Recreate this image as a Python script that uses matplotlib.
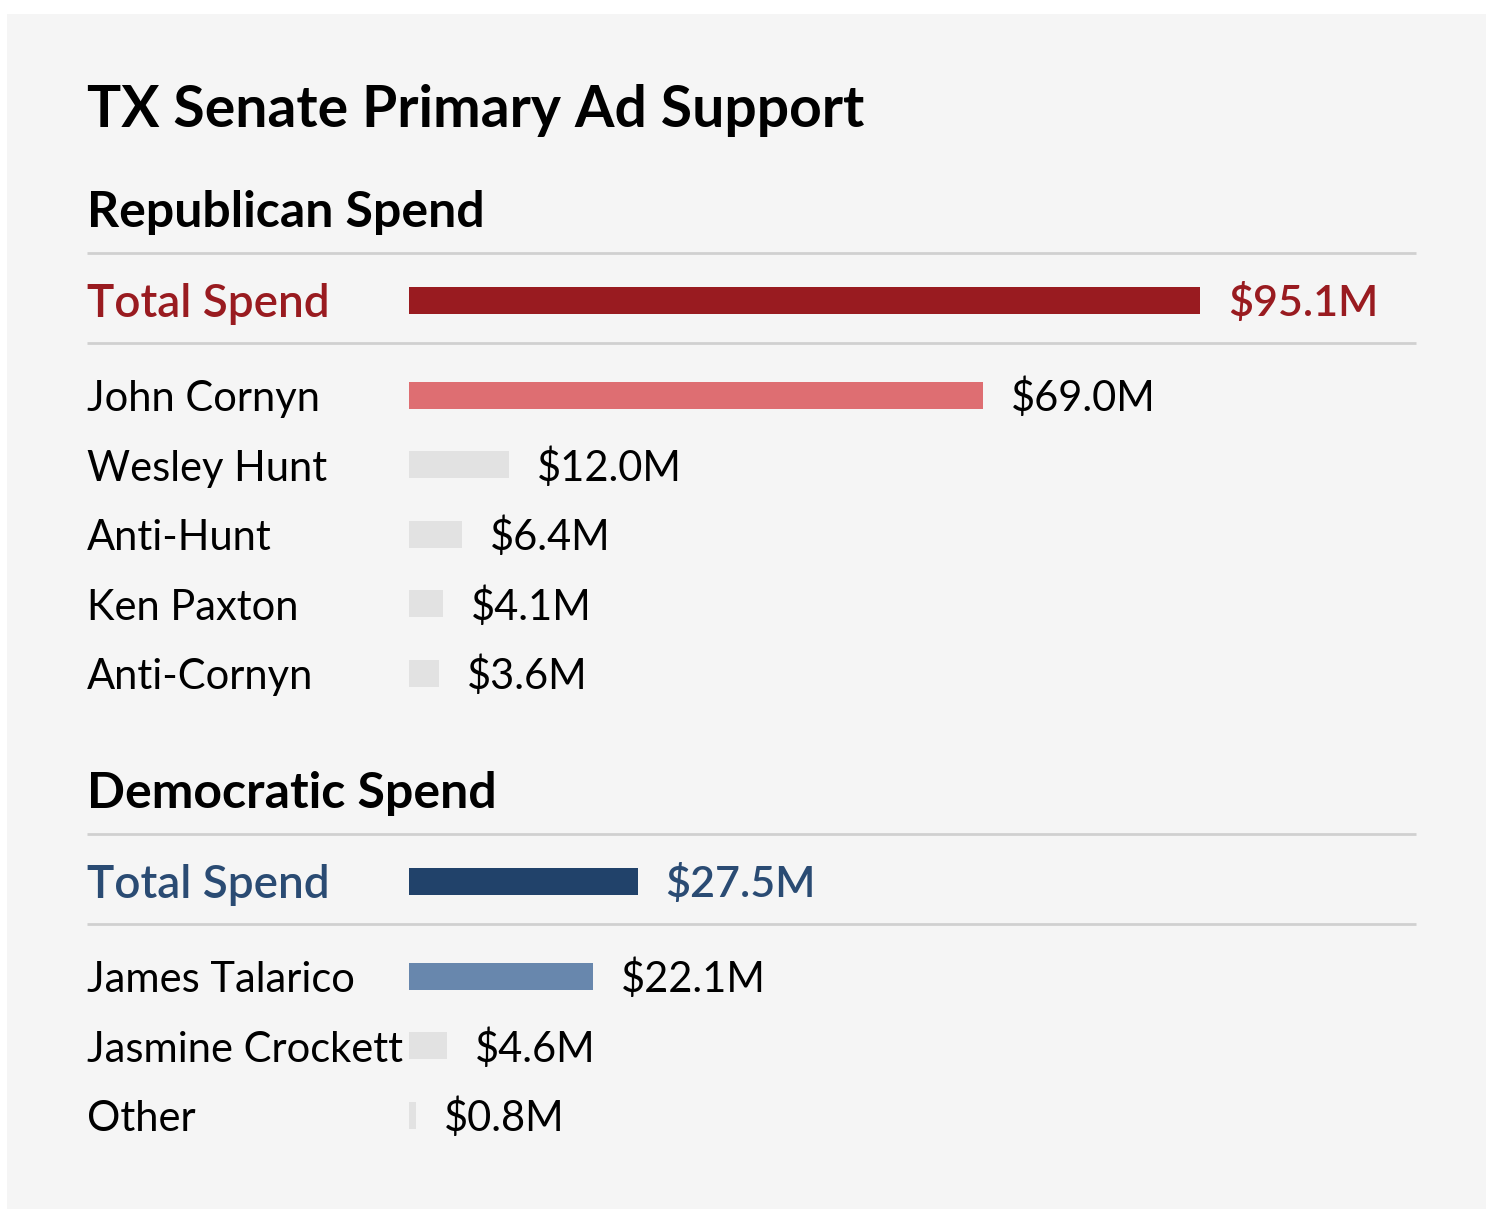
import matplotlib
matplotlib.use("Agg")
import matplotlib.pyplot as plt
from matplotlib.patches import Rectangle

# data (millions of dollars)
rep_names = ["John Cornyn", "Wesley Hunt", "Anti-Hunt", "Ken Paxton", "Anti-Cornyn"]
rep_values = [69.0, 12.0, 6.4, 4.1, 3.6]
rep_total = 95.1

dem_names = ["James Talarico", "Jasmine Crockett", "Other"]
dem_values = [22.1, 4.6, 0.8]
dem_total = 27.5

plt.rcParams['font.family'] = ['Lato', 'DejaVu Sans']

W, H = 1486, 1209
bar_x0 = 409          # pixel where bars start
px_per_m = 8.32       # pixels per $1M
label_x = 87
bar_h = 27
row_step = 69.6

BG = "#f5f5f5"
LINE = "#d0d0d0"
GRAY = "#e2e2e2"

fig = plt.figure(figsize=(W / 100, H / 100), dpi=100, facecolor="white")
ax = fig.add_axes([0, 0, 1, 1])
ax.set_facecolor("none")
ax.set_xlim(-bar_x0 / px_per_m, (W - bar_x0) / px_per_m)
ax.set_ylim(H, 0)
ax.axis("off")
ax.add_patch(Rectangle((7 / W, 0), 1 - 7 / W, 1 - 14 / H, transform=fig.transFigure,
                       facecolor=BG, edgecolor="none", zorder=-5))

lx = -(bar_x0 - label_x) / px_per_m
line_x1 = (1416 - bar_x0) / px_per_m

ax.text(lx, 127, "TX Senate Primary Ad Support", fontsize=41, fontweight="bold",
        color="black", va="baseline")


def section(top, title, total, names, values, dark, light, text_col):
    ax.text(lx, top + 19, title, fontsize=36, fontweight="bold", va="baseline", color="black")
    ax.plot([lx, line_x1], [top + 45, top + 45], color=LINE, lw=2, solid_capstyle="butt")
    ax.plot([lx, line_x1], [top + 135, top + 135], color=LINE, lw=2, solid_capstyle="butt")

    yt = top + 92
    ax.barh(yt, total, height=bar_h, left=0, color=dark)
    ax.text(lx, yt + 17, "Total Spend", fontsize=33, fontweight="semibold", color=text_col,
            va="baseline")
    ax.annotate(f"${total:.1f}M", (total, yt + 16), xytext=(20, 0), textcoords="offset points",
                fontsize=31, fontweight="semibold", color=text_col, va="baseline")

    for i, (n, v) in enumerate(zip(names, values)):
        y = top + 187 + i * row_step
        ax.barh(y, v, height=bar_h, left=0, color=light if i == 0 else GRAY)
        ax.text(lx, y + 16, n, fontsize=30, color="black", va="baseline")
        ax.annotate(f"${v:.1f}M", (v, y + 16), xytext=(20, 0), textcoords="offset points",
                    fontsize=30, color="black", va="baseline")


section(208, "Republican Spend", rep_total, rep_names, rep_values,
        "#991b20", "#de6e72", "#991b20")
section(789, "Democratic Spend", dem_total, dem_names, dem_values,
        "#21426a", "#6887ad", "#2a4b73")

fig.savefig("out.png", dpi=100, facecolor="white")
